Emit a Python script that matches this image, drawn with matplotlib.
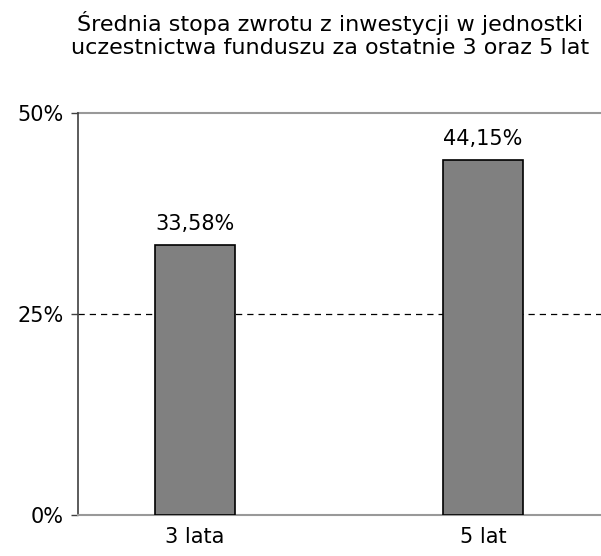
import matplotlib.pyplot as plt
from matplotlib.ticker import FuncFormatter

categories = ["3 lata", "5 lat"]
values = [33.58, 44.15]
yticks = [0, 25, 50]
title = "Średnia stopa zwrotu z inwestycji w jednostki\nuczestnictwa funduszu za ostatnie 3 oraz 5 lat"

plt.rcParams['font.family'] = ['DejaVu Sans']
fs = 15

fig = plt.figure(figsize=(6.01, 5.56), dpi=100)
ax = fig.add_axes([0.1298, 0.0743, 0.8702, 0.7216])

x = range(len(categories))
ax.bar(x, values, width=0.278, color="#808080", edgecolor="black", linewidth=1.2, zorder=3)

for xi, v in zip(x, values):
    ax.annotate(("%.2f%%" % v).replace(".", ","), (xi, v), xytext=(0, 8),
                textcoords="offset points", ha="center", va="bottom", fontsize=fs)

ax.set_xlim(-0.406, 1.41)
ax.set_ylim(0, 50)
ax.set_xticks(list(x))
ax.set_xticklabels(categories, fontsize=fs)
ax.tick_params(axis="x", length=0, pad=9)
ax.set_yticks(yticks)
ax.yaxis.set_major_formatter(FuncFormatter(lambda v, p: "%d%%" % v))
ax.tick_params(axis="y", length=5, width=1, color="#404040", labelsize=fs, pad=5)

ax.axhline(25, color="black", linestyle=(0, (5, 4)), linewidth=0.9, zorder=1)
ax.axhline(50, color="#999999", linewidth=1.5, zorder=1, clip_on=False)

ax.spines["top"].set_visible(False)
ax.spines["right"].set_visible(False)
ax.spines["bottom"].set_color("#999999")
ax.spines["bottom"].set_linewidth(1.5)
ax.spines["left"].set_color("#404040")
ax.spines["left"].set_linewidth(1.2)

fig.text(0.549, 0.938, title, ha="center", va="center", fontsize=16, linespacing=1.2)

fig.savefig("out.png", dpi=100)
